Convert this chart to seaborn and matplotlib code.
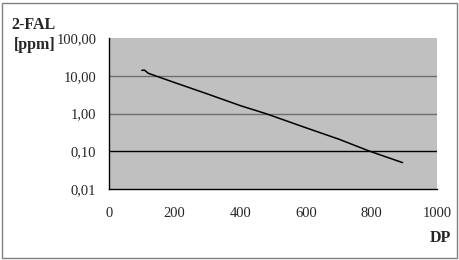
import matplotlib
matplotlib.use("Agg")
import matplotlib.pyplot as plt
from matplotlib.patches import Rectangle
import seaborn as sns
import pandas as pd

dp = [100, 108, 120, 200, 300, 400, 480, 600, 700, 795, 895]
fal = [13.9, 14.1, 11.6, 6.6, 3.3, 1.62, 0.98, 0.42, 0.21, 0.10, 0.050]
y_ticks = [0.01, 0.1, 1, 10, 100]
y_labels = ["0,01", "0,10", "1,00", "10,00", "100,00"]
x_ticks = [0, 200, 400, 600, 800, 1000]
x_labels = ["0", "200", "400", "600", "800", "1000"]

sns.set_style("white")
plt.rcParams['font.family'] = ['Liberation Serif', 'DejaVu Serif']

fig = plt.figure(figsize=(4.6, 2.6), dpi=100)
ax = fig.add_axes([109/460, 1-189/260, (437-109)/460, (189-38)/260])
ax.set_facecolor("#c0c0c0")

df = pd.DataFrame({"DP": dp, "FAL": fal})
sns.lineplot(data=df, x="DP", y="FAL", ax=ax, color="black", linewidth=1.1)

ax.set_yscale("log")
ax.set_ylim(0.01, 100)
ax.set_xlim(0, 1000)
ax.set_yticks(y_ticks)
ax.set_yticklabels(y_labels)
ax.yaxis.set_minor_locator(matplotlib.ticker.NullLocator())
ax.set_xticks(x_ticks)
ax.set_xticklabels(x_labels)

for yv, col in [(10, "#6e6e6e"), (1, "#6e6e6e"), (0.1, "black")]:
    ax.axhline(yv, color=col, linewidth=1.0, zorder=1)

for s in ["top", "right"]:
    ax.spines[s].set_visible(False)
for s in ["left", "bottom"]:
    ax.spines[s].set_color("black")
    ax.spines[s].set_linewidth(1.0)

ax.tick_params(axis="y", direction="out", length=4, width=1, color="black",
               labelsize=10.5, pad=5)
ax.tick_params(axis="x", direction="inout", length=8, width=1, color="black",
               labelsize=10.5, pad=9)
ax.set_xlabel("")
ax.set_ylabel("")

fig.text(34/460, 1-25/260, "2-FAL", ha="center", va="center", fontsize=11.5, fontweight="bold")
fig.text(35/460, 1-45/260, "[ppm]", ha="center", va="center", fontsize=11.5, fontweight="bold")
fig.text(451/460, 1-238/260, "DP", ha="right", va="center", fontsize=11.5, fontweight="bold")

fig.patches.append(Rectangle((2/460, 2/260), 455/460, 255/260, transform=fig.transFigure,
                             fill=False, edgecolor="#808080", linewidth=1.0))

fig.savefig("out.png", dpi=100)
